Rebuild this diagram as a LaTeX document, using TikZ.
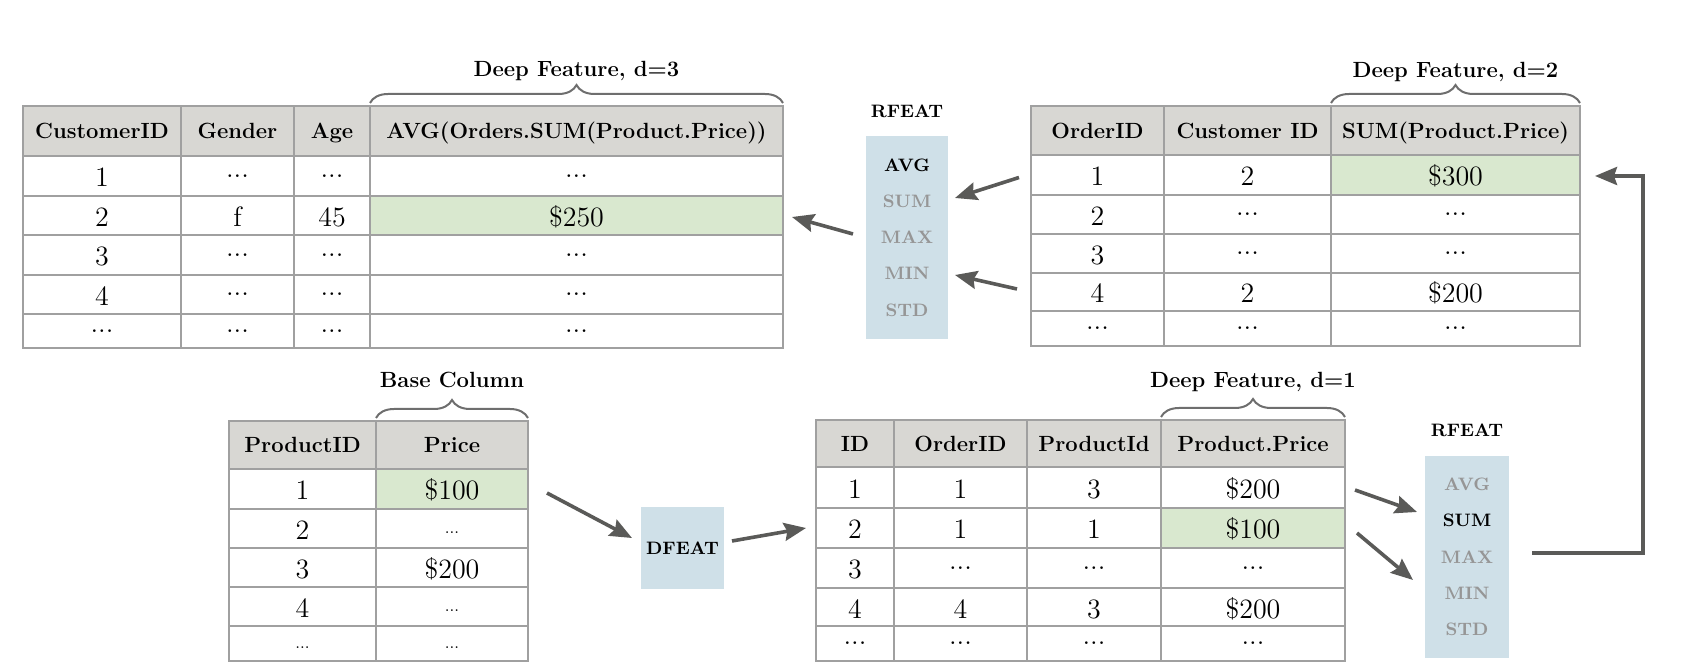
\documentclass[tikz,border=0pt]{standalone}
\usepackage{fontspec}
\usepackage{tikz}
\usetikzlibrary{arrows.meta,positioning,calc,decorations.pathreplacing}
\definecolor{hdr}{RGB}{216,215,211}
\definecolor{gridgray}{RGB}{160,160,160}
\definecolor{hlg}{RGB}{217,232,207}
\definecolor{fnb}{RGB}{207,224,232}
\definecolor{arw}{RGB}{90,90,88}
\definecolor{brcgray}{RGB}{110,110,110}
\definecolor{off}{RGB}{150,150,150}
\newcommand{\vd}{\raisebox{.34em}{...}}
\newcommand{\vds}{{\fontsize{8}{10}\selectfont\raisebox{.4em}{...}}}

\begin{document}
\begin{tikzpicture}[x=0.5pt,y=-0.5pt,
  cell/.style={draw=gridgray,line width=0.9pt,fill=white,inner sep=0pt,outer sep=0pt,
    font=\fontsize{14}{16}\selectfont,text height=12pt,text depth=1pt},
  head/.style={cell,fill=hdr,font=\bfseries\fontsize{11}{13}\selectfont,text height=9pt,text depth=1pt},
  hl/.style={cell,fill=hlg},
  fn/.style={fill=fnb,inner sep=0pt,outer sep=0pt,align=center,font=\bfseries\fontsize{9}{18.1}\selectfont},
  fnlab/.style={font=\bfseries\fontsize{9}{11}\selectfont},
  tag/.style={font=\bfseries\fontsize{11}{13}\selectfont,text depth=2pt},
  brc/.style={draw=brcgray,line width=1pt,decorate,decoration={brace,amplitude=9pt,raise=1.5pt}},
  arr/.style={draw=arw,line width=1.8pt,-{Stealth[length=11pt,width=9pt,inset=1.5pt]}}]
 \useasboundingbox (0,0) rectangle (1696,672);
 % customers, d=3
 \foreach \y/\rh/\rs/\ls/\pa/\pb/\pc/\pd [count=\r] in {
   131/50/head/head/CustomerID/Gender/Age/{AVG(Orders.SUM(Product.Price))},
   176/40/cell/cell/1/\vd/\vd/\vd,
   215.5/39/cell/hl/2/f/45/\$250,
   255/40/cell/cell/3/\vd/\vd/\vd,
   294.5/39/cell/cell/4/\vd/\vd/\vd,
   331/34/cell/cell/\vd/\vd/\vd/\vd}{
   \node[\rs,minimum width=79pt,minimum height=\rh*0.5pt] (cu-\r-1) at (102,\y) {\pa};
   \node[\rs,minimum width=56.5pt,minimum height=\rh*0.5pt] (cu-\r-2) at (237.5,\y) {\pb};
   \node[\rs,minimum width=38pt,minimum height=\rh*0.5pt] (cu-\r-3) at (332,\y) {\pc};
   \node[\ls,minimum width=206.5pt,minimum height=\rh*0.5pt] (cu-\r-4) at (576.5,\y) {\pd};
 }
 \draw[brc] (cu-1-4.north west) -- (cu-1-4.north east) node[tag,midway,above=9pt] (d3) {Deep Feature, d=3};
 % orders, d=2
 \foreach \y/\rh/\rs/\ls/\pa/\pb/\pc [count=\r] in {
   130.5/49/head/head/OrderID/Customer ID/{SUM(Product.Price)},
   175/40/cell/hl/1/2/\$300,
   214.5/39/cell/cell/2/\vd/\vd,
   253.5/39/cell/cell/3/\vd/\vd,
   292/38/cell/cell/4/2/\$200,
   328.5/35/cell/cell/\vd/\vd/\vd}{
   \node[\rs,minimum width=66.5pt,minimum height=\rh*0.5pt] (ord-\r-1) at (1097.5,\y) {\pa};
   \node[\rs,minimum width=83.5pt,minimum height=\rh*0.5pt] (ord-\r-2) at (1247.5,\y) {\pb};
   \node[\ls,minimum width=124.5pt,minimum height=\rh*0.5pt] (ord-\r-3) at (1455.5,\y) {\pc};
 }
 \draw[brc] (ord-1-3.north west) -- (ord-1-3.north east) node[tag,midway,above=8.5pt] (d2) {Deep Feature, d=2};
 % products, base column
 \foreach \y/\rh/\rs/\ls/\pa/\pb [count=\r] in {
   445/48/head/head/ProductID/Price,
   489/40/cell/hl/1/\$100,
   528.5/39/cell/cell/2/\vds,
   567.5/39/cell/cell/3/\$200,
   606.5/39/cell/cell/4/\vds,
   643.5/35/cell/cell/\vds/\vds}{
   \node[\rs,minimum width=73.5pt,minimum height=\rh*0.5pt] (prod-\r-1) at (302.5,\y) {\pa};
   \node[\ls,minimum width=76pt,minimum height=\rh*0.5pt] (prod-\r-2) at (452,\y) {\pb};
 }
 \draw[brc] (prod-1-2.north west) -- (prod-1-2.north east) node[tag,midway,above=11pt] (base) {Base Column};
 % order items, d=1
 \foreach \y/\rh/\rs/\ls/\pa/\pb/\pc/\pd [count=\r] in {
   443.5/47/head/head/ID/OrderID/ProductId/Product.Price,
   487.5/41/cell/cell/1/1/3/\$200,
   528/40/cell/hl/2/1/1/\$100,
   568/40/cell/cell/3/\vd/\vd/\vd,
   607/38/cell/cell/4/4/3/\$200,
   643.5/35/cell/cell/\vd/\vd/\vd/\vd}{
   \node[\rs,minimum width=39pt,minimum height=\rh*0.5pt] (lnk-\r-1) at (855,\y) {\pa};
   \node[\rs,minimum width=66.5pt,minimum height=\rh*0.5pt] (lnk-\r-2) at (960.5,\y) {\pb};
   \node[\rs,minimum width=67pt,minimum height=\rh*0.5pt] (lnk-\r-3) at (1094,\y) {\pc};
   \node[\ls,minimum width=92pt,minimum height=\rh*0.5pt] (lnk-\r-4) at (1253,\y) {\pd};
 }
 \draw[brc] (lnk-1-4.north west) -- (lnk-1-4.north east) node[tag,midway,above=10.5pt] (d1) {Deep Feature, d=1};
 % feature boxes
 \node[fn,minimum width=41pt,minimum height=101.5pt] (rf1) at (907,237.5)
   {AVG\\\textcolor{off}{SUM}\\\textcolor{off}{MAX}\\\textcolor{off}{MIN}\\\textcolor{off}{STD}};
 \node[fnlab,above=5.5pt of rf1] (rf1l) {RFEAT};
 \node[fn,minimum width=42pt,minimum height=101pt] (rf2) at (1467,557)
   {\textcolor{off}{AVG}\\SUM\\\textcolor{off}{MAX}\\\textcolor{off}{MIN}\\\textcolor{off}{STD}};
 \node[fnlab,above=6pt of rf2] (rf2l) {RFEAT};
 \node[fn,minimum width=41.5pt,minimum height=41pt] (df) at (682.5,548) {DFEAT};
 % arrows
 \draw[arr] ($(prod-2-2.east)+(19,4)$) -- ($(df.west)+(-9,-10)$);
 \draw[arr] ($(df.east)+(8,-7)$) -- ($(lnk-3-1.west)+(-10,0)$);
 \draw[arr] ($(lnk-2-4.east)+(10,2.5)$) -- ($(rf2.west)+(-8,-45)$);
 \draw[arr] ($(lnk-3-4.east)+(12,5)$) -- ($(rf2.west)+(-12,23)$);
 \draw[arr] ($(rf2.east)+(23,-4)$) -- ++(111,0) |- ($(ord-2-3.east)+(15,1)$);
 \draw[arr] ($(ord-2-1.west)+(-12,2.5)$) -- ($(rf1.east)+(7,-39.5)$);
 \draw[arr] ($(ord-5-1.west)+(-14,-3)$) -- ($(rf1.east)+(7,37.5)$);
 \draw[arr] ($(rf1.west)+(-13,-3.5)$) -- ($(cu-3-4.east)+(9,1.5)$);
\end{tikzpicture}
\end{document}
